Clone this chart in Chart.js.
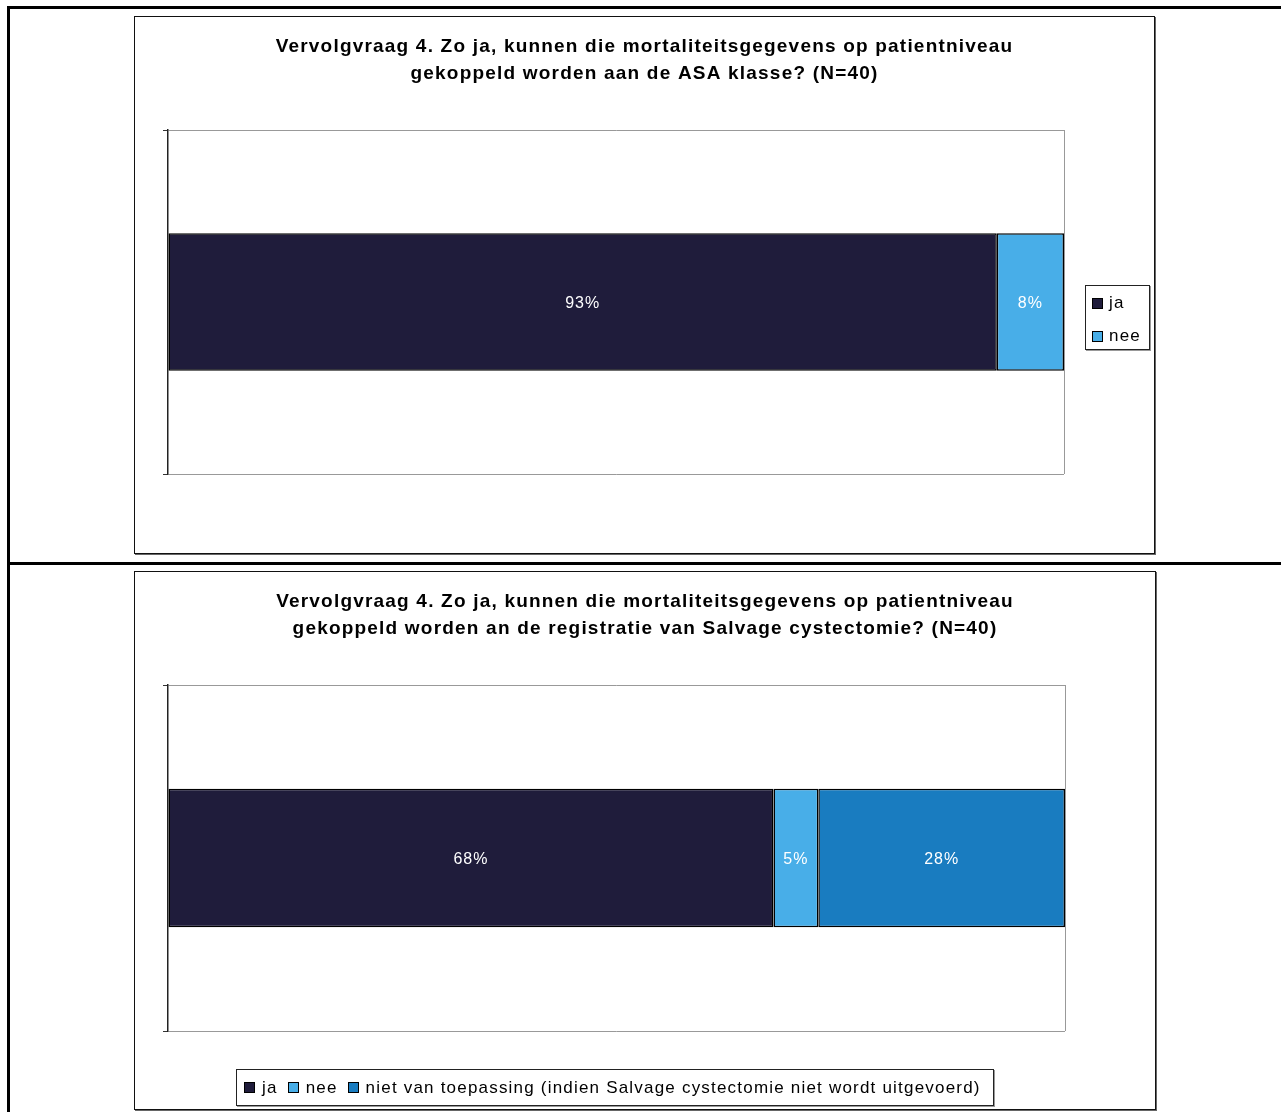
<!DOCTYPE html>
<html lang="nl">
<head>
    <meta charset="UTF-8">
    <title>Vervolgvraag 4</title>
    <script src="https://cdn.jsdelivr.net/npm/chart.js"></script>
    <style>
        body {
            margin: 0;
            width: 1281px;
            height: 1112px;
            background: #fff;
            position: relative;
            overflow: hidden;
            font-family: "Liberation Sans", Arial, sans-serif;
        }
        .line { position: absolute; background: #000; }
        .chart-box {
            position: absolute;
            border: 1px solid #111;
            box-shadow: 1px 1px 0 #666;
            background: #fff;
        }
        .chart-box canvas { position: absolute; left: 0; top: 0; }
        .legend {
            position: absolute;
            border: 1px solid #222;
            box-shadow: 1px 1px 0 #999;
            background: #fff;
            font-size: 17px;
            letter-spacing: 1.2px;
            color: #000;
            box-sizing: border-box;
        }
        .legend .item { display: flex; align-items: center; white-space: nowrap; }
        .legend .swatch {
            width: 9px; height: 9px;
            border: 1px solid #000;
            margin-right: 6px;
            flex: none;
        }
        #legend1 { left: 950px; top: 268px; width: 65px; height: 65px; padding: 3px 0 0 6px; }
        #legend1 .item { height: 28px; margin-bottom: 5px; }
        #legend2 { left: 101px; top: 497px; width: 758px; height: 37px; padding: 0 0 0 7px; display: flex; align-items: center; }
        #legend2 .swatch { margin-right: 7px; }
        #legend2 .item { margin-right: 10px; }
    </style>
</head>
<body>
    <div class="line" style="left:7px; top:6px; width:1274px; height:3px;"></div>
    <div class="line" style="left:7px; top:6px; width:3px; height:1106px;"></div>
    <div class="line" style="left:7px; top:562px; width:1274px; height:3px;"></div>

    <div class="chart-box" style="left:134px; top:16px; width:1019px; height:536px;">
        <canvas id="chart1" width="1019" height="536"></canvas>
        <div id="legend1" class="legend"></div>
    </div>
    <div class="chart-box" style="left:134px; top:571px; width:1020px; height:537px;">
        <canvas id="chart2" width="1020" height="537"></canvas>
        <div id="legend2" class="legend"></div>
    </div>

    <script>
        // data
        const categories = [''];
        const title1 = ['Vervolgvraag 4. Zo ja, kunnen die mortaliteitsgegevens op patientniveau',
                        'gekoppeld worden aan de ASA klasse? (N=40)'];
        const series1 = ['ja', 'nee'];
        const values1 = [92.5, 7.5];

        const title2 = ['Vervolgvraag 4. Zo ja, kunnen die mortaliteitsgegevens op patientniveau',
                        'gekoppeld worden an de registratie van Salvage cystectomie? (N=40)'];
        const series2 = ['ja', 'nee', 'niet van toepassing (indien Salvage cystectomie niet wordt uitgevoerd)'];
        const values2 = [67.5, 5, 27.5];

        const seriesColors = ['#1f1c3b', '#48aee8', '#197cc0'];

        const fontFamily = '"Liberation Sans", Arial, sans-serif';

        // spaced-out text like the original export, title centred on the whole box
        const titlePlugin = {
            id: 'titleFix',
            afterLayout(chart) {
                const t = chart.titleBlock;
                if (t) {
                    t.left = 0;
                    t.right = chart.width;
                    t.width = chart.width;
                }
            },
            beforeDraw(chart) {
                chart.ctx.letterSpacing = '1.2px';
            }
        };

        // percentage labels in the middle of each segment
        const valueLabels = {
            id: 'valueLabels',
            afterDatasetsDraw(chart) {
                const ctx = chart.ctx;
                ctx.save();
                ctx.font = '16px ' + fontFamily;
                ctx.letterSpacing = '1px';
                ctx.fillStyle = '#fff';
                ctx.textAlign = 'center';
                ctx.textBaseline = 'middle';
                chart.data.datasets.forEach((ds, i) => {
                    chart.getDatasetMeta(i).data.forEach((el, j) => {
                        const p = el.getCenterPoint();
                        ctx.fillText(Math.round(ds.data[j]) + '%', p.x, p.y + 1.5);
                    });
                });
                ctx.restore();
            }
        };

        function buildLegend(id, names) {
            document.getElementById(id).innerHTML = names.map((n, i) =>
                `<div class="item"><span class="swatch" style="background:${seriesColors[i]}"></span>${n}</div>`
            ).join('');
        }

        function makeChart(canvasId, titleLines, names, values, padding) {
            return new Chart(document.getElementById(canvasId), {
                type: 'bar',
                data: {
                    labels: categories,
                    datasets: names.map((n, i) => ({
                        label: n,
                        data: [values[i]],
                        backgroundColor: seriesColors[i],
                        borderColor: '#000',
                        borderWidth: 1.5,
                        borderSkipped: false,
                        categoryPercentage: 1,
                        barPercentage: 0.4
                    }))
                },
                options: {
                    indexAxis: 'y',
                    responsive: false,
                    animation: false,
                    layout: { padding: padding },
                    plugins: {
                        legend: { display: false },
                        tooltip: { enabled: false },
                        title: {
                            display: true,
                            text: titleLines,
                            color: '#000',
                            font: { family: fontFamily, size: 19, weight: 'bold', lineHeight: 27 / 19 },
                            padding: { top: 16.5, bottom: 42.5 }
                        }
                    },
                    scales: {
                        x: {
                            stacked: true,
                            min: 0,
                            max: 100,
                            ticks: { display: false },
                            grid: {
                                drawTicks: false,
                                color: c => (c.tick && c.tick.value === 100) ? '#999' : 'rgba(0,0,0,0)'
                            },
                            border: { display: false }
                        },
                        y: {
                            stacked: true,
                            ticks: { display: false },
                            grid: { offset: true, color: '#999', tickColor: '#333', tickLength: 5 },
                            border: { display: true, color: '#222', width: 1.5 }
                        }
                    }
                },
                plugins: [titlePlugin, valueLabels]
            });
        }

        makeChart('chart1', title1, series1, values1, { left: 28, right: 90, top: 0, bottom: 79 });
        makeChart('chart2', title2, series2, values2, { left: 28, right: 90, top: 0, bottom: 78 });
        buildLegend('legend1', series1);
        buildLegend('legend2', series2);
    </script>
</body>
</html>
